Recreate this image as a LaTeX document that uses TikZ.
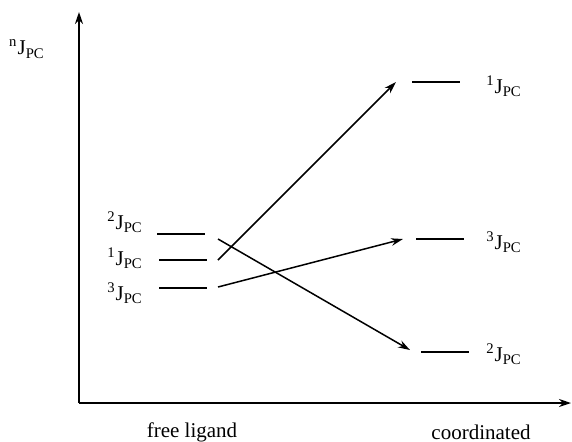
\documentclass[tikz,border=0pt]{standalone}
\usepackage{fontspec}
\setmainfont{Liberation Serif}
\usetikzlibrary{arrows.meta, positioning}
\tikzset{
  every picture/.style={line width=0.75pt},
  axis/.style={-{Stealth[length=6pt, width=4pt]}, line width=1pt},
  arrow/.style={-{Stealth[length=6pt, width=3.8pt]}, line width=0.75pt},
  level/.style={line width=0.7pt},
  lbl/.style={font=\fontsize{10.5}{12.6}\selectfont, inner sep=0pt},
}
\newcommand{\jpc}[1]{\textsuperscript{#1}J\textsubscript{PC}}
\begin{document}
\begin{tikzpicture}[x=0.5pt, y=-0.5pt]
  \useasboundingbox (0,0) rectangle (572,441);
  % ---- axes ----
  \coordinate (origin) at (79,403);
  \coordinate (ytop) at (79,12);
  \coordinate (xend) at (571,403);
  \draw[axis] (origin) -- (ytop);
  \draw[axis] (origin) -- (xend);
  \node[lbl] (ylab) at (27,49) {\jpc{n}};
  \node[lbl] (free) at (192,432) {free ligand};
  \node[lbl] (coord) at (481,432) {coordinated};
  % ---- free ligand levels (left) ----
  \coordinate (f2a) at (157,234); \coordinate (f2b) at (205,234);
  \coordinate (f1a) at (159,260); \coordinate (f1b) at (207,260);
  \coordinate (f3a) at (159,288); \coordinate (f3b) at (207,288);
  \draw[level] (f2a) -- (f2b);
  \draw[level] (f1a) -- (f1b);
  \draw[level] (f3a) -- (f3b);
  \node[lbl] (fl2) at (125,222) {\jpc{2}};
  \node[lbl] (fl1) at (125,258) {\jpc{1}};
  \node[lbl] (fl3) at (125,293) {\jpc{3}};
  % ---- coordinated levels (right) ----
  \coordinate (c1a) at (412,82);  \coordinate (c1b) at (460,82);
  \coordinate (c3a) at (416,239); \coordinate (c3b) at (464,239);
  \coordinate (c2a) at (421,352); \coordinate (c2b) at (469,352);
  \draw[level] (c1a) -- (c1b);
  \draw[level] (c3a) -- (c3b);
  \draw[level] (c2a) -- (c2b);
  \node[lbl] (cl1) at (504,86) {\jpc{1}};
  \node[lbl] (cl3) at (504,242) {\jpc{3}};
  \node[lbl] (cl2) at (504,354) {\jpc{2}};
  % ---- changes on coordination ----
  \coordinate (s1) at (218,260); \coordinate (e1) at (396,82);
  \coordinate (s2) at (218,239); \coordinate (e2) at (410,350);
  \coordinate (s3) at (218,287); \coordinate (e3) at (403,239);
  \draw[arrow] (s1) -- (e1);
  \draw[arrow] (s2) -- (e2);
  \draw[arrow] (s3) -- (e3);
\end{tikzpicture}
\end{document}
